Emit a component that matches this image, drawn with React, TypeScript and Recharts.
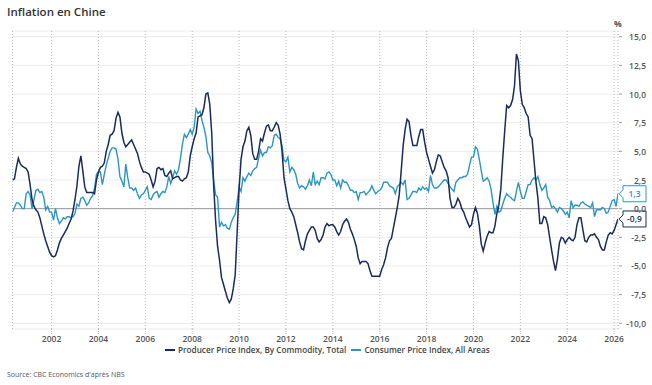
import React from 'react';
import { LineChart, Line, XAxis, YAxis, CartesianGrid, ReferenceLine, ReferenceDot } from 'recharts';

const FONT = '"Open Sans", "Noto Sans", sans-serif';

// Monthly values, first month = April 2000
const START_YEAR = 2000;
const START_MONTH = 4;

const ppi2000s = [
  2.5, 2.6, 3.6, 4.4, 3.9, 3.7, 3.6, 3.5, 3.2,
  2.1, 0.8, 0.2, -0.1, -0.3, -0.8, -1.5, -2.2, -2.8, -3.3, -3.8, -4.1,
  -4.2, -4.1, -3.6, -3.0, -2.6, -2.3, -2.0, -1.7, -1.3, -0.9, -0.2, 0.8,
  2.0, 3.7, 4.6, 3.3, 1.9, 1.4, 1.4, 1.4, 1.4, 1.3, 2.5, 3.2,
  3.6, 3.7, 4.0, 5.0, 5.6, 6.4, 6.5, 6.8, 7.9, 8.4, 8.0, 6.6,
  5.8, 5.4, 5.6, 5.8, 6.0, 5.6, 5.2, 4.8, 4.1, 3.6, 3.2, 3.2,
  3.1, 3.0, 2.5, 1.9, 2.4, 3.5, 3.6, 3.4, 3.5, 2.9, 2.8, 3.1,
  3.3, 2.6, 2.7, 2.8, 2.8, 2.5, 2.4, 2.6, 2.7, 3.2, 4.6, 5.4,
  6.1, 6.6, 8.0, 8.1, 8.2, 8.8, 10.0, 10.1, 9.1, 6.6, 2.0, -1.1,
  -3.3, -4.5, -6.0, -6.6, -7.2, -7.8, -8.2, -7.9, -7.0, -5.8, -2.1, 1.7,
];
const ppi2010s = [
  4.3, 5.4, 5.9, 6.8, 7.1, 6.4, 4.8, 4.3, 4.3, 5.0, 6.1, 5.9,
  6.6, 7.2, 7.3, 6.8, 6.8, 7.1, 7.5, 7.3, 6.5, 5.0, 2.7, 1.7,
  0.7, 0.0, -0.3, -0.7, -1.4, -2.1, -2.9, -3.5, -3.6, -2.8, -2.2, -1.9,
  -1.6, -1.6, -1.9, -2.6, -2.9, -2.7, -2.3, -1.6, -1.3, -1.5, -1.4, -1.4,
  -1.6, -2.0, -2.3, -2.0, -1.4, -1.1, -0.9, -1.2, -1.8, -2.2, -2.7, -3.3,
  -4.3, -4.8, -4.6, -4.6, -4.6, -4.8, -5.4, -5.9, -5.9, -5.9, -5.9, -5.9,
  -5.3, -4.9, -4.3, -3.4, -2.8, -2.6, -1.7, -0.8, 0.1, 1.2, 3.3, 5.5,
  6.9, 7.8, 7.6, 6.4, 5.5, 5.5, 5.5, 6.3, 6.9, 6.9, 5.8, 4.9,
  4.3, 3.7, 3.1, 3.4, 4.1, 4.7, 4.6, 4.1, 3.6, 3.3, 2.7, 0.9,
  0.1, 0.1, 0.4, 0.9, 0.6, 0.0, -0.3, -0.8, -1.2, -1.6, -1.4, -0.5,
];
const ppi2020s = [
  0.1, -0.4, -1.5, -3.1, -3.7, -3.0, -2.4, -2.0, -2.1, -2.1, -1.5, -0.4,
  0.3, 1.7, 4.4, 6.8, 9.0, 8.8, 9.0, 9.5, 10.7, 13.5, 12.9, 10.3,
  9.1, 8.8, 8.3, 8.0, 6.4, 6.1, 4.2, 2.3, 0.9, -1.3, -1.3, -0.7,
  -0.8, -1.4, -2.5, -3.6, -4.6, -5.4, -4.4, -3.0, -2.5, -2.6, -3.0, -2.7,
  -2.5, -2.7, -2.8, -2.5, -1.4, -0.8, -0.8, -1.8, -2.8, -2.9, -2.5, -2.3,
  -2.3, -2.2, -2.5, -2.7, -3.3, -3.6, -3.6, -2.9, -2.3, -2.1, -2.2, -1.9,
  -1.4, -0.9,
];

const cpi2000s = [
  -0.3, 0.1, 0.5, 0.5, 0.3, 0.0, 0.0, 1.3, 1.5,
  1.2, 0.0, 0.8, 1.6, 1.7, 1.4, 1.5, 1.0, -0.1, 0.2, -0.3, -0.3,
  -1.0, 0.0, -0.8, -1.3, -1.1, -0.8, -0.9, -0.7, -0.7, -0.8, -0.7, -0.4,
  0.4, 0.2, 0.9, 1.0, 0.7, 0.3, 0.5, 0.9, 1.1, 1.8, 3.0, 3.2,
  3.2, 2.1, 3.0, 3.8, 4.4, 5.0, 5.3, 5.3, 5.2, 4.3, 2.8, 2.4,
  1.9, 3.9, 2.7, 1.8, 1.8, 1.6, 1.8, 1.3, 0.9, 1.2, 1.3, 1.6,
  1.9, 0.9, 0.8, 1.2, 1.4, 1.5, 1.0, 1.3, 1.5, 1.4, 1.9, 2.8,
  2.2, 2.7, 3.3, 3.0, 3.4, 4.4, 5.6, 6.5, 6.2, 6.5, 6.9, 6.5,
  7.1, 8.7, 8.3, 8.5, 7.7, 7.1, 6.3, 4.9, 4.6, 4.0, 2.4, 1.2,
  1.0, -1.6, -1.2, -1.5, -1.4, -1.7, -1.8, -1.2, -0.8, -0.5, 0.6, 1.9,
];
const cpi2010s = [
  1.5, 2.7, 2.4, 2.8, 3.1, 2.9, 3.3, 3.5, 3.6, 4.4, 5.1, 4.6,
  4.9, 4.9, 5.4, 5.3, 5.5, 6.4, 6.5, 6.2, 6.1, 5.5, 4.2, 4.1,
  4.5, 3.2, 3.6, 3.4, 3.0, 2.2, 1.8, 2.0, 1.9, 1.7, 2.0, 2.5,
  2.0, 3.2, 2.1, 2.4, 2.1, 2.7, 2.7, 2.6, 3.1, 3.2, 3.0, 2.5,
  2.5, 2.0, 2.4, 1.8, 2.5, 2.3, 2.3, 2.0, 1.6, 1.6, 1.4, 1.5,
  0.8, 1.4, 1.4, 1.5, 1.2, 1.4, 1.6, 2.0, 1.6, 1.3, 1.5, 1.6,
  1.8, 2.3, 2.3, 2.3, 2.0, 1.9, 1.8, 1.3, 1.9, 2.1, 2.3, 2.1,
  2.5, 0.8, 0.9, 1.2, 1.5, 1.5, 1.4, 1.8, 1.6, 1.9, 1.7, 1.8,
  1.5, 2.9, 2.1, 1.8, 1.8, 1.9, 2.1, 2.3, 2.5, 2.5, 2.2, 1.9,
  1.7, 1.5, 2.3, 2.5, 2.7, 2.7, 2.8, 2.8, 3.0, 3.8, 4.5, 4.5,
];
const cpi2020s = [
  5.4, 5.2, 4.3, 3.3, 2.4, 2.5, 2.7, 2.4, 1.7, 0.5, -0.5, 0.2,
  -0.3, -0.2, 0.4, 0.9, 1.3, 1.1, 1.0, 0.8, 0.7, 1.5, 2.3, 1.5,
  0.9, 0.9, 1.5, 2.1, 2.1, 2.5, 2.7, 2.5, 2.8, 2.1, 1.6, 1.8,
  2.1, 1.0, 0.7, 0.1, 0.2, 0.0, -0.3, 0.1, 0.0, -0.2, -0.5, -0.3,
  -0.8, 0.7, 0.1, 0.3, 0.3, 0.2, 0.5, 0.6, 0.4, 0.3, 0.2, 0.1,
  0.5, -0.7, -0.1, -0.1, -0.1, 0.1, 0.0, -0.4, -0.3, 0.2, 0.7, 0.8,
  0.2, 1.3,
];

const xTicks = [2002, 2004, 2006, 2008, 2010, 2012, 2014, 2016, 2018, 2020, 2022, 2024, 2026];
const yTicks = [-10, -7.5, -5, -2.5, 0, 2.5, 5, 7.5, 10, 12.5, 15];

const PPI_NAME = 'Producer Price Index, By Commodity, Total';
const CPI_NAME = 'Consumer Price Index, All Areas';
const PPI_COLOR = '#172c5c';
const CPI_COLOR = '#2a96c8';

const ppi = [...ppi2000s, ...ppi2010s, ...ppi2020s];
const cpi = [...cpi2000s, ...cpi2010s, ...cpi2020s];

const rows = ppi.map((v, i) => {
  const m = START_MONTH - 1 + i;
  const year = START_YEAR + Math.floor(m / 12);
  const mon = m % 12;
  return { t: year + (mon + 1) / 12, ppi: v, cpi: cpi[i] };
});

const fmt = (v: number, d = 1) => v.toFixed(d).replace('.', ',');

const YTick = (props: any) => {
  const { x, y, payload } = props;
  return (
    <g>
      <line x1={x + 1} x2={x + 4} y1={y} y2={y} stroke="#9a9a9a" strokeWidth={1} />
      <text x={x + 28} y={y} textAnchor="end" dominantBaseline="central" fontSize={8.5} fontWeight={600} fill="#555" fontFamily={FONT}>
        {fmt(payload.value)}
      </text>
    </g>
  );
};

const Tag = ({ cx, cy, text, color }: any) => {
  const tipX = cx + 1;
  const bx = cx + 5;
  const w = 23;
  const h = 16;
  const top = cy - h / 2;
  const bot = cy + h / 2;
  const d = `M${tipX},${cy} L${bx},${cy - 4} L${bx},${top} L${bx + w},${top} L${bx + w},${bot} L${bx},${bot} L${bx},${cy + 4} Z`;
  return (
    <g>
      <path d={d} fill="#fff" stroke={color} strokeWidth={1} />
      <text x={bx + w / 2} y={cy} textAnchor="middle" dominantBaseline="central" fontSize={8.5} fontWeight={600} fill={color} fontFamily={FONT}>
        {text}
      </text>
    </g>
  );
};

export default function App() {
  const last = rows[rows.length - 1];
  const tMin = rows[0].t;
  const tMax = last.t;
  return (
    <div style={{ position: 'absolute', left: 0, top: 0, width: 652, height: 385, background: '#fff', fontFamily: FONT, overflow: 'hidden' }}>
      <div style={{ position: 'absolute', left: 7, top: 4, fontSize: 11.5, fontWeight: 600, color: '#333', lineHeight: '15px', whiteSpace: 'nowrap' }}>
        Inflation en Chine
      </div>
      <div style={{ position: 'absolute', left: 614, top: 18, fontSize: 8.5, fontWeight: 700, color: '#555', lineHeight: '12px' }}>%</div>
      <div style={{ position: 'absolute', left: 0, top: 0 }}>
        <LineChart width={652} height={350} data={rows} margin={{ top: 31, right: 0, bottom: 0, left: 12.5 }}>
          <CartesianGrid vertical={false} stroke="#ececec" strokeWidth={1} />
          <CartesianGrid horizontal={false} stroke="#bdbdbd" strokeDasharray="1 2" strokeWidth={1} />
          <XAxis
            dataKey="t"
            type="number"
            domain={[tMin, tMax]}
            allowDataOverflow
            ticks={xTicks}
            tickFormatter={(v: number) => String(v)}
            axisLine={false}
            tickLine={{ stroke: '#bdbdbd', strokeDasharray: '1 1' }}
            tickSize={5}
            tickMargin={2}
            height={21}
            interval={0}
            tick={{ fontSize: 8.5, fontWeight: 600, fill: '#555', fontFamily: FONT }}
          />
          <YAxis
            orientation="right"
            type="number"
            domain={[-10.5, 15.5]}
            allowDataOverflow
            ticks={yTicks}
            width={34}
            axisLine={false}
            tickLine={false}
            tickSize={0}
            tickMargin={0}
            interval={0}
            tick={<YTick />}
          />
          <ReferenceLine y={0} stroke="#9a9a9a" strokeWidth={1} />
          <Line type="linear" dataKey="cpi" name={CPI_NAME} stroke={CPI_COLOR} strokeWidth={1.4} dot={false} isAnimationActive={false} />
          <Line type="linear" dataKey="ppi" name={PPI_NAME} stroke={PPI_COLOR} strokeWidth={1.5} dot={false} isAnimationActive={false} />
          <ReferenceDot x={last.t} y={last.cpi} r={0} shape={(p: any) => <Tag cx={p.cx} cy={p.cy} text={fmt(last.cpi)} color={CPI_COLOR} />} />
          <ReferenceDot x={last.t} y={last.ppi} r={0} shape={(p: any) => <Tag cx={p.cx} cy={p.cy} text={fmt(last.ppi)} color={PPI_COLOR} />} />
        </LineChart>
      </div>
      <div style={{ position: 'absolute', left: 165, top: 344, display: 'flex', alignItems: 'center', fontSize: 8.2, fontWeight: 600, color: '#444', lineHeight: '12px', whiteSpace: 'nowrap' }}>
        <span style={{ display: 'inline-block', width: 10, height: 2, background: PPI_COLOR, marginRight: 3 }} />
        <span>{PPI_NAME}</span>
        <span style={{ display: 'inline-block', width: 10, height: 2, background: CPI_COLOR, marginLeft: 5, marginRight: 3 }} />
        <span>{CPI_NAME}</span>
      </div>
      <div style={{ position: 'absolute', left: 7, top: 369, fontSize: 7, color: '#555', lineHeight: '12px', whiteSpace: 'nowrap' }}>
        Source: CBC Economics d'après NBS
      </div>
    </div>
  );
}
